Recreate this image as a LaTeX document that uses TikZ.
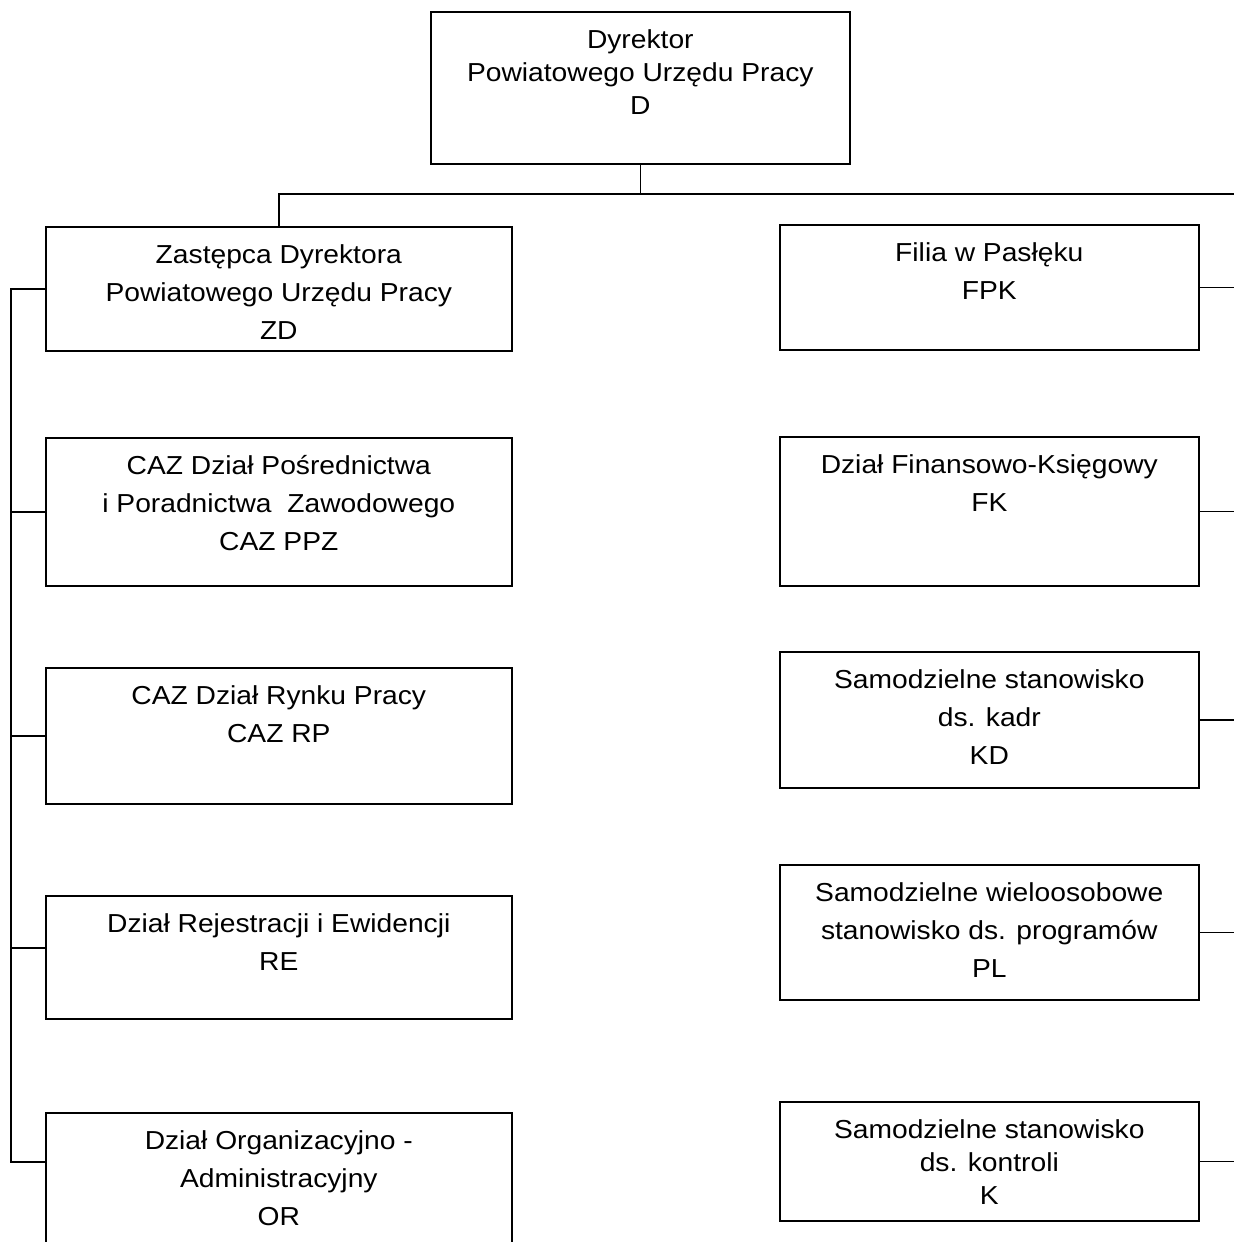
\documentclass[tikz,border=0pt]{standalone}
\usepackage{fontspec}
\setmainfont{Liberation Sans}[FakeStretch=1.085]
\usepackage{tikz}
\usetikzlibrary{calc}
\tikzset{
  font={\fontsize{13pt}{19pt}\selectfont}}

\begin{document}
\begin{tikzpicture}[x=0.5pt, y=-0.5pt, line width=0.8pt,
  unit/.style = {draw, anchor=north west, inner sep=0pt},
  lunit/.style = {unit, minimum width=233pt},
  runit/.style = {unit, minimum width=209.5pt},
  txt/.style = {anchor=north, align=center, inner sep=0pt, yshift=-9pt},
  tight/.style = {font={\fontsize{13pt}{16.5pt}\selectfont}}]
\clip (0,0) rectangle (1234,1242);
\node[runit, minimum height=76pt, label={[txt, tight]north:Dyrektor\\Powiatowego Urzędu Pracy\\D}] (d) at (430,11) {};

% left column
\node[lunit, minimum height=62pt, label={[txt]north:Zastępca Dyrektora\\Powiatowego Urzędu Pracy\\ZD}] (zd) at (45,226) {};
\node[lunit, minimum height=74pt, label={[txt]north:CAZ Dział Pośrednictwa\\i Poradnictwa~ Zawodowego\\CAZ PPZ}] (ppz) at (45,437) {};
\node[lunit, minimum height=68pt, label={[txt]north:CAZ Dział Rynku Pracy\\CAZ RP}] (rp) at (45,667) {};
\node[lunit, minimum height=61.5pt, label={[txt]north:Dział Rejestracji i Ewidencji\\RE}] (re) at (45,895) {};
\node[lunit, minimum height=80pt, label={[txt]north:Dział Organizacyjno -\\Administracyjny\\OR}] (or) at (45,1112) {};

% right column
\node[runit, minimum height=62.5pt, label={[txt]north:Filia w Pasłęku\\FPK}] (fpk) at (779,224) {};
\node[runit, minimum height=74.5pt, label={[txt]north:Dział Finansowo-Księgowy\\FK}] (fk) at (779,436) {};
\node[runit, minimum height=68pt, label={[txt]north:Samodzielne stanowisko\\ds. kadr\\KD}] (kd) at (779,651) {};
\node[runit, minimum height=67.5pt, label={[txt]north:Samodzielne wieloosobowe\\stanowisko ds. programów\\PL}] (pl) at (779,864) {};
\node[runit, minimum height=59.5pt, label={[txt, tight]north:Samodzielne stanowisko\\ds. kontroli\\K}] (k) at (779,1101) {};

\coordinate (rend) at (1240,194);
\coordinate (rein) at ($(re.north west)+(0,53)$);
\coordinate (orin) at ($(or.north west)+(0,50)$);

\draw (d.south) -- (d.south |- rend);
\draw (zd.north) |- (rend);
\draw (zd.west) -- ++(-34,0) |- (orin);
\foreach \n in {ppz.west, rp.west, rein}
  \draw (\n) -- ++(-34,0);
\foreach \n in {fpk,fk,kd,pl,k}
  \draw (\n.east) -- ++(42,0);
\end{tikzpicture}
\end{document}
